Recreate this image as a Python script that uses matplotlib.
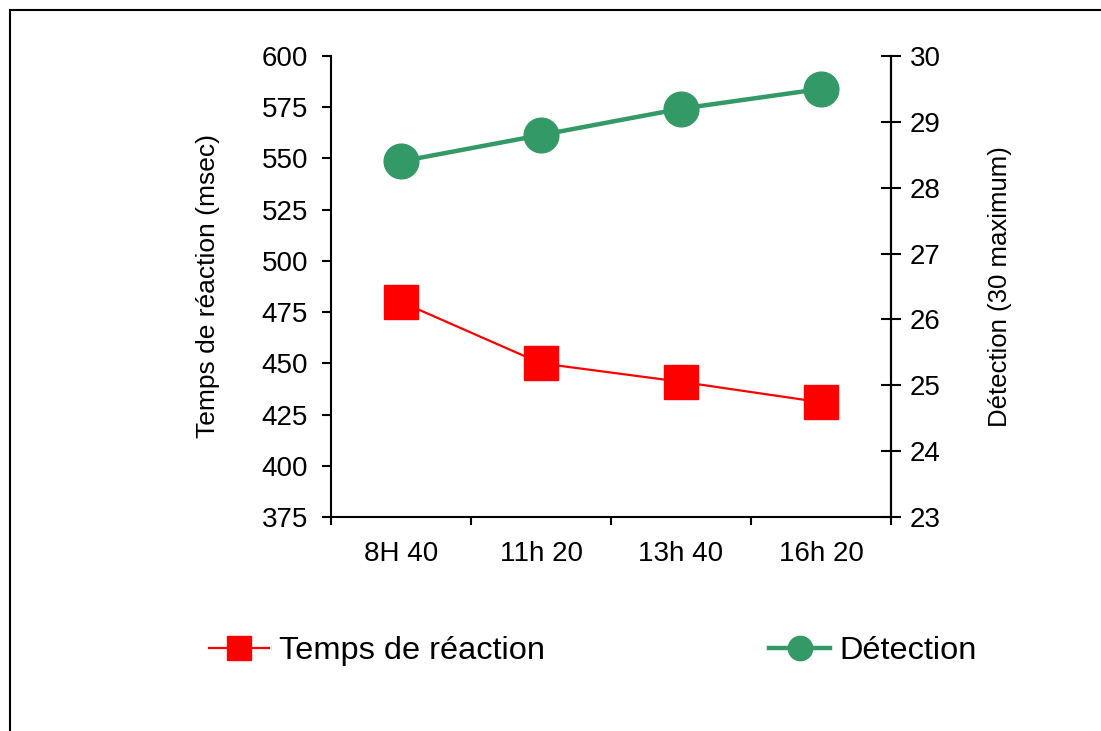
import matplotlib
matplotlib.use("Agg")
import matplotlib.pyplot as plt
from matplotlib.lines import Line2D

plt.rcParams['font.family'] = ['Liberation Sans', 'DejaVu Sans']

categories = ["8H 40", "11h 20", "13h 40", "16h 20"]
temps_reaction = [480, 450, 441, 431]
detection = [28.4, 28.8, 29.2, 29.5]
left_ticks = [375, 400, 425, 450, 475, 500, 525, 550, 575, 600]
right_ticks = [23, 24, 25, 26, 27, 28, 29, 30]

W, H = 1101, 731
fig = plt.figure(figsize=(W / 100, H / 100), dpi=100)
ax = fig.add_axes([331 / W, 1 - 517 / H, (891 - 331) / W, (517 - 56) / H])
ax2 = ax.twinx()

x = list(range(len(categories)))
red = "#ff0000"
green = "#339966"
l1, = ax.plot(x, temps_reaction, color=red, lw=1.6, marker="s", ms=24,
              mec=red, mfc=red, label="Temps de réaction", zorder=3)
l2, = ax2.plot(x, detection, color=green, lw=3.2, marker="o", ms=25,
               mec=green, mfc=green, label="Détection", zorder=3)

ax.set_xlim(-0.5, len(categories) - 0.5)
ax.set_ylim(375, 600)
ax2.set_ylim(23, 30)
ax.set_yticks(left_ticks)
ax2.set_yticks(right_ticks)

ax.set_xticks([i - 0.5 for i in range(len(categories) + 1)])
ax.set_xticklabels([])
ax.set_xticks(x, minor=True)
ax.set_xticklabels(categories, minor=True)
ax.tick_params(axis="x", which="major", direction="out", length=6, width=1.5)
ax.tick_params(axis="x", which="minor", length=0, labelsize=20, pad=17)
ax.tick_params(axis="y", direction="out", length=6.5, width=1.5, labelsize=20, pad=10)
ax2.tick_params(axis="y", direction="inout", length=15, width=1.5, labelsize=20, pad=6)

for a in (ax, ax2):
    a.spines["top"].set_visible(False)
    for s in ("left", "right", "bottom"):
        a.spines[s].set_linewidth(1.5)
ax2.spines["left"].set_visible(False)
ax2.spines["bottom"].set_visible(False)

ax.set_ylabel("Temps de réaction (msec)", fontsize=19, labelpad=30)
ax2.set_ylabel("Détection (30 maximum)", fontsize=18.5, labelpad=34)

fig.legend(handles=[l1, l2], loc="center left", bbox_to_anchor=(209 / W, 1 - 651 / H),
           ncol=2, frameon=False, fontsize=23.4, handlelength=1.85, handletextpad=0.31,
           columnspacing=6.9, borderpad=0, borderaxespad=0, markerscale=0.7)

# figure frame
fig.add_artist(Line2D([9.5 / W, 9.5 / W], [0, 1 - 9.5 / H], transform=fig.transFigure,
                      color="black", lw=1.5))
fig.add_artist(Line2D([9.5 / W, 1], [1 - 9.5 / H, 1 - 9.5 / H], transform=fig.transFigure,
                      color="black", lw=1.5))

fig.savefig("out.png", dpi=100)
